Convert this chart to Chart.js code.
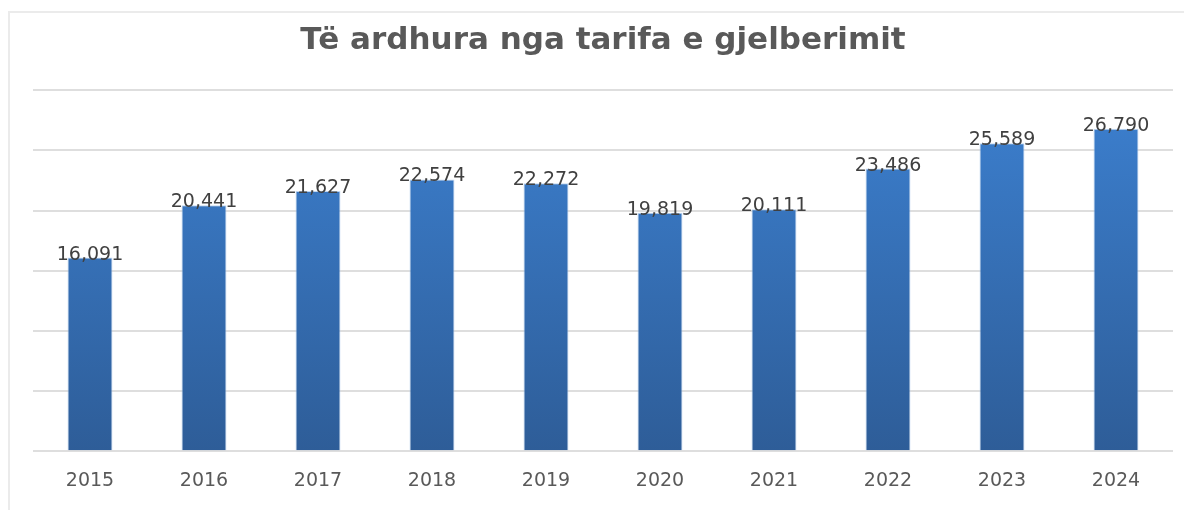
<!DOCTYPE html>
<html>
<head>
<meta charset="utf-8">
<script src="https://cdn.jsdelivr.net/npm/chart.js@4.4.1/dist/chart.umd.min.js"></script>
<style>
  html, body { margin: 0; padding: 0; background: #ffffff; }
  #wrap { position: relative; width: 1184px; height: 510px; overflow: hidden; }
  #frame { position: absolute; left: 8px; top: 11px; width: 1300px; height: 600px;
           border-left: 2px solid #ebebeb; border-top: 2px solid #ebebeb; box-sizing: border-box; }
  canvas { position: absolute; left: 0; top: 0; }
</style>
</head>
<body>
<div id="wrap">
  <div id="frame"></div>
  <canvas id="c" width="1184" height="510"></canvas>
</div>
<script>
const titleText = "Të ardhura nga tarifa e gjelberimit";
const categories = ["2015", "2016", "2017", "2018", "2019", "2020", "2021", "2022", "2023", "2024"];
const revenues = [16091, 20441, 21627, 22574, 22272, 19819, 20111, 23486, 25589, 26790];
const yMin = 0;
const yMax = 30000;
const yStep = 5000;

const labelPlugin = {
  id: 'valueLabels',
  afterDatasetsDraw(chart) {
    const ctx = chart.ctx;
    const meta = chart.getDatasetMeta(0);
    ctx.save();
    ctx.font = '19px "DejaVu Sans", sans-serif';
    ctx.fillStyle = '#404040';
    ctx.textAlign = 'center';
    ctx.textBaseline = 'middle';
    meta.data.forEach((bar, i) => {
      ctx.fillText(revenues[i].toLocaleString('en-US'), bar.x, bar.y - 3);
    });
    ctx.restore();
  }
};

const ctx = document.getElementById('c').getContext('2d');
new Chart(ctx, {
  type: 'bar',
  data: {
    labels: categories,
    datasets: [{
      data: revenues,
      backgroundColor: (c) => {
        const area = c.chart.chartArea;
        if (!area) return '#3a7bc8';
        const g = c.chart.ctx.createLinearGradient(0, area.top, 0, area.bottom);
        g.addColorStop(0, '#3c80d0');
        g.addColorStop(1, '#2e5d98');
        return g;
      },
      borderColor: 'rgba(170,200,235,0.7)',
      borderWidth: 1,
      categoryPercentage: 1.0,
      barPercentage: 0.395
    }]
  },
  options: {
    responsive: false,
    animation: false,
    devicePixelRatio: 1,
    layout: { padding: { left: 33, right: 11, top: 0, bottom: 0 } },
    plugins: {
      legend: { display: false },
      tooltip: { enabled: false },
      title: {
        display: true,
        text: titleText,
        color: '#595959',
        font: { family: '"DejaVu Sans", sans-serif', size: 31, weight: 'bold' },
        padding: { top: 22, bottom: 31 }
      }
    },
    scales: {
      x: {
        grid: { display: false, drawTicks: false },
        border: { display: false },
        ticks: { color: '#595959', padding: 18, font: { family: '"DejaVu Sans", sans-serif', size: 19 } }
      },
      y: {
        min: yMin, max: yMax,
        ticks: { display: false, stepSize: yStep },
        grid: { color: '#dedede', lineWidth: 2, drawTicks: false },
        border: { display: false }
      }
    }
  },
  plugins: [labelPlugin]
});
</script>
</body>
</html>
